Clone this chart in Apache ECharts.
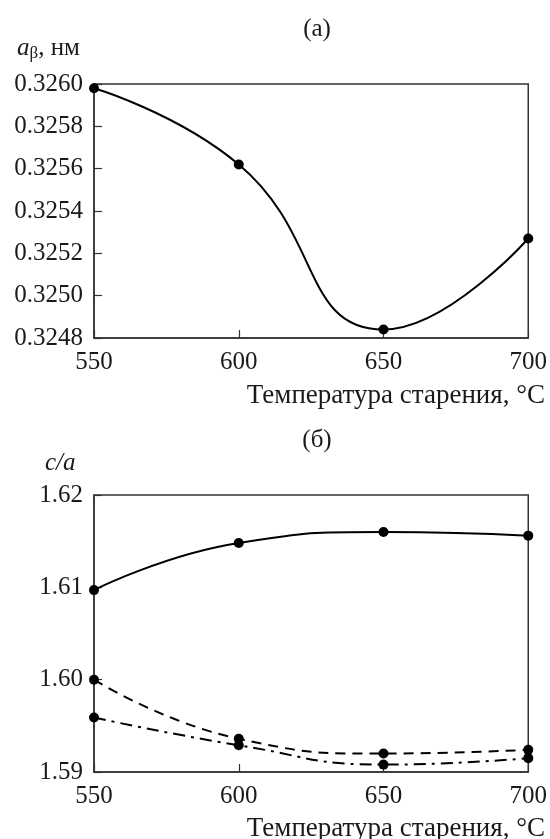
<!DOCTYPE html>
<html>
<head>
<meta charset="utf-8">
<script src="https://cdn.jsdelivr.net/npm/echarts@6/dist/echarts.min.js"></script>
<style>
  html, body { margin: 0; padding: 0; background: #fff; }
  #main { width: 550px; height: 839px; }
</style>
</head>
<body>
<div id="main"></div>
<script>
// температура старения, °C
var temps = [550, 600, 650, 700];
// (а) параметр решетки бета-фазы, нм
var aBeta = [0.32598, 0.32562, 0.32484, 0.32527];
// (б) c/a, три кривые
var caSolid = [1.6097, 1.6148, 1.6160, 1.6156];
var caDashed = [1.6000, 1.5936, 1.5920, 1.5924];
var caDashDot = [1.5959, 1.5929, 1.5908, 1.5915];

var FONT = 'Liberation Serif';
var INK = '#1a1a1a';

function pairs(ys) {
  return temps.map(function (t, i) { return [t, ys[i]]; });
}

function xAxisCfg(gi) {
  return {
    type: 'value', gridIndex: gi, min: 550, max: 700, interval: 50,
    axisLine: { show: true, lineStyle: { color: '#333', width: 1.5 } },
    axisTick: { show: true, inside: true, length: 8, lineStyle: { color: '#333', width: 1.2 } },
    axisLabel: { color: INK, fontFamily: FONT, fontSize: 25, margin: 12 },
    splitLine: { show: false }
  };
}

function yAxisCfg(gi, min, max, step, digits) {
  return {
    type: 'value', gridIndex: gi, min: min, max: max, interval: step,
    axisLine: { show: true, lineStyle: { color: '#333', width: 1.5 } },
    axisTick: { show: true, inside: true, length: 8, lineStyle: { color: '#333', width: 1.2 } },
    axisLabel: {
      color: INK, fontFamily: FONT, fontSize: 25, margin: 11,
      formatter: function (v) { return v.toFixed(digits); }
    },
    splitLine: { show: false }
  };
}

function lineSeries(xi, ys, dash) {
  return {
    type: 'line', xAxisIndex: xi, yAxisIndex: xi,
    data: pairs(ys), smooth: 0.5, clip: false,
    symbol: 'circle', symbolSize: 10,
    itemStyle: { color: '#000' },
    lineStyle: { color: '#000', width: 2, type: dash }
  };
}

var txt = { color: INK, fontFamily: FONT, fontSize: 25, fontWeight: 'normal' };

var myChart = echarts.init(document.getElementById('main'));
myChart.setOption({
  animation: false,
  backgroundColor: '#fff',
  title: [
    { text: '(a)', left: 312, top: 12, textAlign: 'center', textStyle: txt },
    { text: '(б)', left: 312, top: 423, textAlign: 'center', textStyle: txt },
    {
      text: '{i|a}{s|β}{n|, нм}', left: 12, top: 30,
      textStyle: {
        rich: {
          i: { fontFamily: FONT, fontSize: 25, fontStyle: 'italic', fontWeight: 'normal', color: INK },
          s: { fontFamily: FONT, fontSize: 17, fontWeight: 'normal', color: INK, verticalAlign: 'bottom', padding: [10, 0, 0, 0] },
          n: { fontFamily: FONT, fontSize: 25, fontWeight: 'normal', color: INK }
        }
      }
    },
    { text: 'c/a', left: 40, top: 446, textStyle: { color: INK, fontFamily: FONT, fontSize: 25, fontStyle: 'italic', fontWeight: 'normal' } },
    { text: 'Температура старения, °C', right: 0, top: 377, textStyle: { color: INK, fontFamily: FONT, fontSize: 27, fontWeight: 'normal' } },
    { text: 'Температура старения, °C', right: 0, top: 810, textStyle: { color: INK, fontFamily: FONT, fontSize: 27, fontWeight: 'normal' } }
  ],
  grid: [
    { left: 94, right: 20, top: 84, height: 254, show: true, borderColor: '#333', borderWidth: 1.5 },
    { left: 94, right: 20, top: 495, height: 277, show: true, borderColor: '#333', borderWidth: 1.5 }
  ],
  xAxis: [xAxisCfg(0), xAxisCfg(1)],
  yAxis: [
    yAxisCfg(0, 0.3248, 0.3260, 0.0002, 4),
    yAxisCfg(1, 1.59, 1.62, 0.01, 2)
  ],
  series: [
    lineSeries(0, aBeta, 'solid'),
    lineSeries(1, caSolid, 'solid'),
    lineSeries(1, caDashed, [10, 7]),
    lineSeries(1, caDashDot, [12, 6, 3, 6])
  ]
});
</script>
</body>
</html>
